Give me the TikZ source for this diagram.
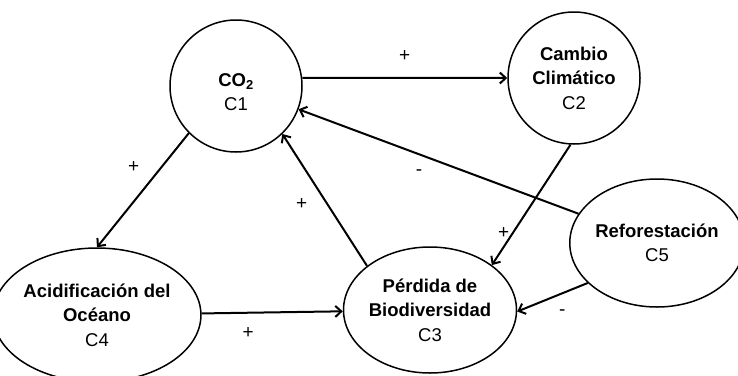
\documentclass[tikz,border=0pt]{standalone}
\usepackage{fontspec}
\setmainfont{Liberation Sans}
\usepackage{tikz}
\usetikzlibrary{arrows.meta,shapes.geometric,positioning}
\tikzset{>/.tip={Straight Barb[length=6pt,width=11pt]}}
\tikzset{concept/.style={draw,line width=1.5pt,fill=white,inner sep=0pt,align=center,
    font=\fontsize{18.5}{24.5}\selectfont}}
\tikzset{sign/.style={font=\fontsize{19}{22}\selectfont,inner sep=1pt}}

\begin{document}
\begin{tikzpicture}[x=1pt,y=-1pt,line width=2pt]
        \useasboundingbox (0,0) rectangle (738,375);
        \node(c1)[concept,circle,minimum size=132pt,text height=50pt] at (236,86){\textbf{CO\textsubscript{2}}\\C1};
        \node(c2)[concept,circle,minimum size=132pt] at (574,78){\textbf{Cambio}\\\textbf{Climático}\\C2};
        \node(c3)[concept,ellipse,minimum width=172pt,minimum height=126pt] at (430,310){\textbf{Pérdida de}\\\textbf{Biodiversidad}\\C3};
        \node(c4)[concept,ellipse,minimum width=172pt,minimum height=134pt] at (97,315){\textbf{Acidificación del}\\\textbf{Océano}\\C4};
        \node(c5)[concept,ellipse,minimum width=160pt,minimum height=128pt] at (657,243){\textbf{Reforestación}\\C5};
        \draw[->]
        (c5) edge node[sign,pos=0.57,below=13pt]{-} (c1)
        (c4) edge node[sign,pos=0.33,below=13pt]{+} (c3);
        \draw[->] (c1.7) -- node[sign,above=14pt]{+} (c2.west);
        \draw[->] (c1.225) -- node[sign,pos=0.3,left=20pt]{+} (c4.north);
        \draw[->] (c3.145) -- node[sign,pos=0.47,left=18pt]{+} (c1.314);
        \draw[->] (c2.267) -- node[sign,pos=0.73,left=2pt]{+} (c3.36);
        \draw[->] (c5.210) -- node[sign,pos=0.36,below=14pt]{-} (c3.359);
      \end{tikzpicture}
\end{document}
